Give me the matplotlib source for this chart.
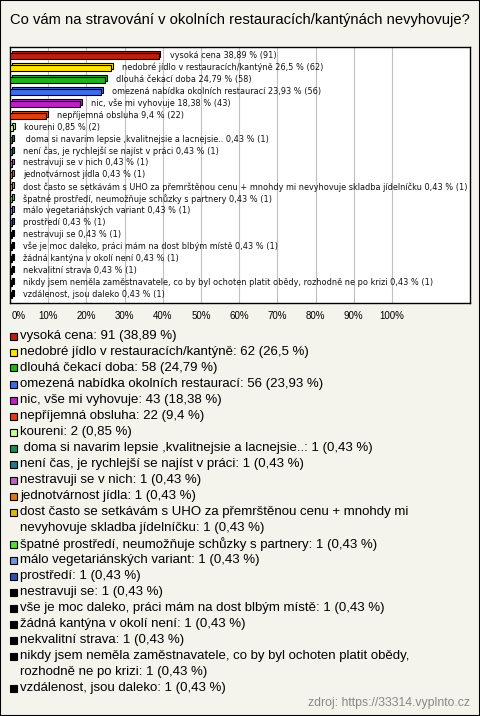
import textwrap
import matplotlib
matplotlib.use("Agg")
import matplotlib.pyplot as plt
from matplotlib.patches import Rectangle

categories = [
    "vysoká cena",
    "nedobré jídlo v restauracích/kantýně",
    "dlouhá čekací doba",
    "omezená nabídka okolních restaurací",
    "nic, vše mi vyhovuje",
    "nepříjemná obsluha",
    "koureni",
    " doma si navarim lepsie ,kvalitnejsie a lacnejsie..",
    "není čas, je rychlejší se najíst v práci",
    "nestravuji se v nich",
    "jednotvárnost jídla",
    "dost často se setkávám s UHO za přemrštěnou cenu + mnohdy mi nevyhovuje skladba jídelníčku",
    "špatné prostředí, neumožňuje schůzky s partnery",
    "málo vegetariánských variant",
    "prostředí",
    "nestravuji se",
    "vše je moc daleko, práci mám na dost blbým místě",
    "žádná kantýna v okolí není",
    "nekvalitní strava",
    "nikdy jsem neměla zaměstnavatele, co by byl ochoten platit obědy, rozhodně ne po krizi",
    "vzdálenost, jsou daleko",
]
counts = [91, 62, 58, 56, 43, 22, 2, 1, 1, 1, 1, 1, 1, 1, 1, 1, 1, 1, 1, 1, 1]
percents = [38.89, 26.5, 24.79, 23.93, 18.38, 9.4, 0.85, 0.43, 0.43, 0.43, 0.43,
            0.43, 0.43, 0.43, 0.43, 0.43, 0.43, 0.43, 0.43, 0.43, 0.43]
colors = ["#BE1E10", "#FFE600", "#1EB41E", "#3C6EE6", "#C21EC8", "#E0400C",
          "#C8FA8C", "#178C5A", "#1F7A8C", "#C060C0", "#E07810", "#E0B414",
          "#50E030", "#6E96E0", "#2E50B4", "#000000", "#000000", "#000000",
          "#000000", "#000000", "#000000"]
xticks = [0, 10, 20, 30, 40, 50, 60, 70, 80, 90, 100]
xticklabels = ["0%", "10%", "20%", "30%", "40%", "50%", "60%", "70%", "80%", "90%", "100%"]
title = "Co vám na stravování v okolních restauracích/kantýnách nevyhovuje?"
source = "zdroj: https://33314.vyplnto.cz"

BG = "#F4F3EC"
W, H = 480, 716
fig = plt.figure(figsize=(W / 100, H / 100), dpi=100, facecolor=BG)
plt.rcParams['font.family'] = ['Liberation Sans', 'DejaVu Sans']

def fx(px):
    return px / W

def fy(py):
    return 1 - py / H

# plot area
left, right, top, bottom = 10, 470, 47, 303
ax = fig.add_axes([fx(left), fy(bottom), fx(right - left), (bottom - top) / H])
ax.set_facecolor("white")
n = len(categories)
ys = list(range(n))
ax.set_ylim(n - 1 + 0.67, -0.75)
ax.set_xlim(0, (right - left) / 3.82)

def fmt(p):
    return f"{p:g}".replace(".", ",")

dx, dy = 0.5, 0.17
bh = 0.5
ax.barh([y - dy for y in ys], percents, left=dx, height=bh, color=colors,
        edgecolor="black", linewidth=0.8, zorder=3)
ax.barh(ys, percents, height=bh, color=colors, edgecolor="black",
        linewidth=0.8, zorder=4)
for y, c, p, k in zip(ys, categories, percents, counts):
    ax.text(p + 2.9, y - 0.05, f"{c} {fmt(p)} % ({k})", fontsize=5.9,
            va="center", ha="left", family="DejaVu Sans", color="#111111",
            zorder=5)

ax.set_xticks(xticks)
ax.set_xticklabels([])
ax.tick_params(length=0)
ax.set_yticks([])
ax.grid(axis="x", color="#C0C0C0", linewidth=0.8, zorder=1)
for s in ax.spines.values():
    s.set_color("black")
    s.set_linewidth(1)

for t, lab in zip(xticks, xticklabels):
    xp = left + t * 3.82
    ha = "left" if t == 0 else "center"
    fig.text(fx(xp + 2 if t == 0 else xp), fy(316), lab, fontsize=7,
             ha=ha, va="center")

fig.text(0.5, fy(20), title, fontsize=10.6, ha="center", va="center")

# legend
row = 336
for c, k, p, col in zip(categories, counts, percents, colors):
    label = f"{c}: {k} ({fmt(p)} %)"
    lines = textwrap.wrap(label, 66, drop_whitespace=False) if len(label) > 68 else [label]
    lines = [l.rstrip() for l in lines]
    fig.patches.append(Rectangle((fx(10), fy(row + 3.5)), fx(7), 7 / H,
                                 transform=fig.transFigure, facecolor=col,
                                 edgecolor="black", linewidth=0.8))
    for i, l in enumerate(lines):
        fig.text(fx(20), fy(row + 16 * i), l, fontsize=9.5, ha="left",
                 va="center")
    row += 16 * len(lines)

fig.text(fx(470), fy(703), source, fontsize=8.8, color="#888888",
         ha="right", va="center")

fig.patches.append(Rectangle((0, 0), 1, 1, transform=fig.transFigure,
                             fill=False, edgecolor="black", linewidth=1.5))

fig.savefig("out.png", dpi=100, facecolor=BG)
